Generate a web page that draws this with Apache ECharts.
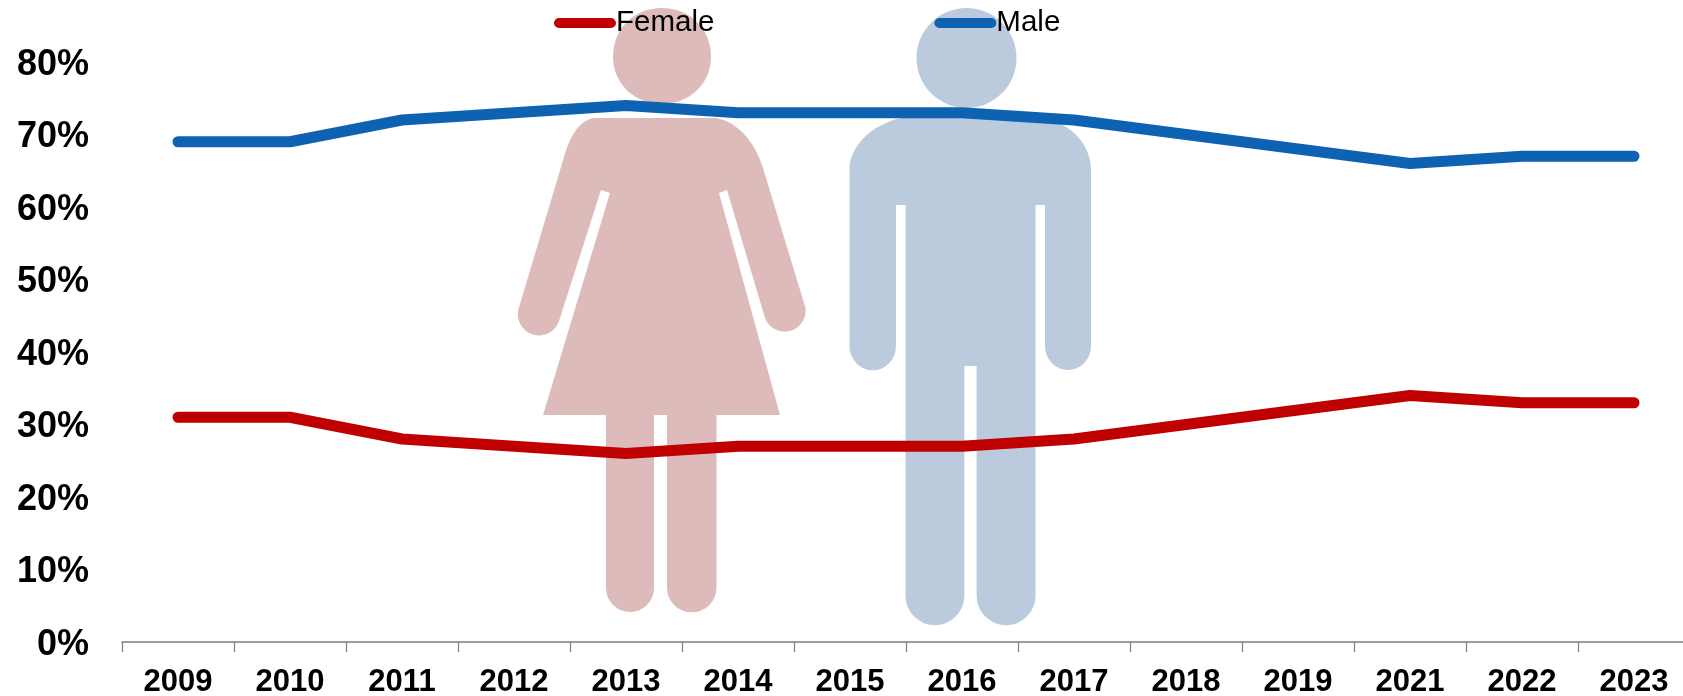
<!DOCTYPE html>
<html lang="en">
<head>
  <meta charset="UTF-8">
  <title>Female and male share</title>
  <style>
    html, body { margin: 0; padding: 0; background: #fff; }
    #chart { width: 1683px; height: 696px; }
  </style>
  <script src="https://cdn.jsdelivr.net/npm/echarts@6/dist/echarts.min.js"></script>
</head>
<body>
  <div id="chart"></div>
  <script>
    var years = ['2009', '2010', '2011', '2012', '2013', '2014', '2015', '2016', '2017', '2018', '2019', '2021', '2022', '2023'];
    var female = [31, 31, 28, 27, 26, 27, 27, 27, 28, 30, 32, 34, 33, 33];
    var male = [69, 69, 72, 73, 74, 73, 73, 73, 72, 70, 68, 66, 67, 67];

    // silhouettes behind the lines, same pixel space as the page
    var womanHead = 'M662 8C689 8 711 28 711 57C711 84 689 104 662 104C635 104 613 84 613 57C613 28 635 8 662 8Z';
    var womanPath = 'M594 118H716C738 122 755 142 763 168L805.5 308A21 21 0 0 1 765 318L727 190L719 193L780 415H716.5V588A24.5 24 0 0 1 667 588V415H654V588A24 24 0 0 1 606 588V415H543L610 193L601 190L559.5 319.5A21 21 0 0 1 518.5 309L564 157C570 135 580 120 594 118Z';
    var manPath = 'M901 118H1044C1072 124 1091 145 1091 170V346A23 24 0 0 1 1045 346V205H1035.5V597A29.5 30 0 0 1 976.6 597V366H964.4V597A29.5 30 0 0 1 905.5 597V205H896V346A23 24 0 0 1 849.5 346V170C849.5 145 873 124 901 118Z';
    var svg = '<svg xmlns="http://www.w3.org/2000/svg" width="1683" height="696" viewBox="0 0 1683 696">' +
      '<filter id="soft"><feGaussianBlur stdDeviation="0.7"/></filter><g filter="url(#soft)">' +
      '<path d="' + womanHead + '" fill="#debbbb"/><path d="' + womanPath + '" fill="#debbbb"/>' +
      '<ellipse cx="966.5" cy="58" rx="50" ry="50" fill="#bbcbdd"/><path d="' + manPath + '" fill="#bbcbdd"/></g></svg>';

    var capsule = 'path://M5 0H56A5 5 0 0 1 56 10H5A5 5 0 0 1 5 0Z';
    var fontName = '"Liberation Sans", Arial, sans-serif';

    var chart = echarts.init(document.getElementById('chart'));
    chart.setOption({
      backgroundColor: '#fff',
      animation: false,
      graphic: [{
        type: 'image',
        z: 0,
        silent: true,
        style: { image: 'data:image/svg+xml;charset=utf-8,' + encodeURIComponent(svg), x: 0, y: 0, width: 1683, height: 696 }
      }],
      legend: {
        left: 549,
        top: 3,
        itemWidth: 62,
        itemHeight: 11,
        itemGap: 220,
        icon: capsule,
        data: ['Female', 'Male'],
        textStyle: { color: '#000', fontFamily: fontName, fontSize: 29.5, padding: [0, 0, 0, -5] }
      },
      grid: { left: 122, top: 62, width: 1568, height: 580, outerBoundsMode: 'none' },
      xAxis: {
        type: 'category',
        offset: 1,
        data: years,
        axisLine: { lineStyle: { color: '#7f7f7f', width: 1.5 } },
        axisTick: { show: true, length: 10, lineStyle: { color: '#7f7f7f', width: 1.2 } },
        axisLabel: { color: '#000', fontFamily: fontName, fontWeight: 'bold', fontSize: 31, margin: 24, interval: 0 }
      },
      yAxis: {
        type: 'value',
        min: 0,
        max: 80,
        interval: 10,
        axisLine: { show: false },
        axisTick: { show: false },
        splitLine: { show: false },
        axisLabel: { color: '#000', fontFamily: fontName, fontWeight: 'bold', fontSize: 36, margin: 33, verticalAlign: 'top', lineHeight: 6, formatter: '{value}%' }
      },
      series: [
        { name: 'Female', type: 'line', data: female, symbol: 'none', itemStyle: { color: '#c00000' }, lineStyle: { color: '#c00000', width: 11, cap: 'round' } },
        { name: 'Male', type: 'line', data: male, symbol: 'none', itemStyle: { color: '#0e62b2' }, lineStyle: { color: '#0e62b2', width: 11, cap: 'round' } }
      ]
    });
  </script>
</body>
</html>
